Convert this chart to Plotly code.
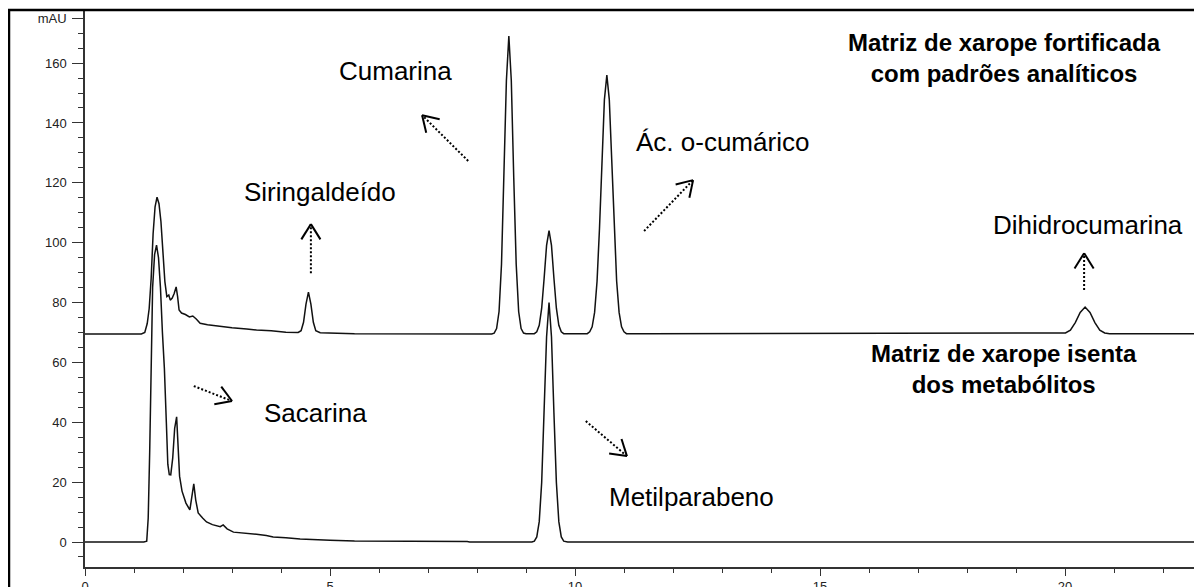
import math
import plotly.graph_objects as go

# ---------------- data ----------------
fort_x = [0.0, 1.15, 1.22, 1.27, 1.31, 1.35, 1.39, 1.43, 1.47, 1.51, 1.55, 1.59, 1.63, 1.67,
          1.71, 1.74, 1.78, 1.82, 1.86, 1.89, 1.92, 1.97, 2.05, 2.13, 2.2, 2.27, 2.35, 2.5,
          2.7, 3.0, 3.3, 3.5, 3.8, 4.1, 4.35, 4.41, 4.46, 4.51, 4.56, 4.61, 4.66, 4.71, 4.8,
          5.5, 8.3, 8.35, 8.4, 8.45, 8.5, 8.55, 8.6, 8.65, 8.7, 8.75, 8.8, 8.85, 8.9, 8.95,
          9.0, 9.17, 9.22, 9.27, 9.32, 9.37, 9.42, 9.47, 9.52, 9.57, 9.62, 9.67, 9.72, 9.77,
          10.25, 10.3, 10.35, 10.4, 10.45, 10.5, 10.55, 10.6, 10.65, 10.7, 10.75, 10.8, 10.85,
          10.9, 10.95, 11.0, 11.05, 11.5, 19.9, 20.01, 20.11, 20.21, 20.31, 20.41, 20.51,
          20.61, 20.71, 20.81, 20.91, 22.8]
fort_y = [69.5, 69.5, 70.0, 73.0, 78.0, 88.0, 103.0, 112.0, 115.2, 113.0, 107.0, 97.0, 87.0, 82.0,
          82.5, 80.8, 81.5, 83.0, 85.2, 82.0, 77.5, 76.5, 76.0, 75.2, 75.5, 74.5, 73.1, 72.6,
          72.1, 71.6, 71.2, 70.8, 70.6, 70.1, 70.0, 70.6, 73.4, 79.5, 83.5, 79.5, 73.4, 70.6, 69.9,
          69.6, 69.5, 69.8, 71.3, 77.0, 92.8, 121.7, 154.2, 169.0, 154.2, 121.7, 92.8, 77.0, 71.3, 69.8,
          69.6, 69.6, 70.2, 72.4, 78.1, 88.1, 99.1, 104.0, 99.1, 88.1, 78.1, 72.4, 70.2, 69.6,
          69.6, 70.2, 71.9, 76.7, 87.1, 104.8, 127.5, 147.8, 156.0, 147.8, 127.5, 104.8, 87.1,
          76.7, 71.9, 70.2, 69.6, 69.6, 69.6, 69.85, 70.8, 73.3, 76.7, 78.5, 76.7,
          73.3, 70.8, 69.85, 69.6, 69.6]

isen_x = [0.0, 1.2, 1.26, 1.29, 1.32, 1.35, 1.38, 1.42, 1.46, 1.5, 1.54, 1.58, 1.62, 1.66,
          1.69, 1.72, 1.75, 1.79, 1.83, 1.87, 1.9, 1.93, 1.98, 2.06, 2.14, 2.19, 2.22, 2.26,
          2.31, 2.4, 2.48, 2.6, 2.76, 2.82, 2.9, 3.03, 3.3, 3.5, 3.7, 3.84, 4.1, 4.39, 5.0,
          5.5, 7.8, 7.85, 9.12, 9.17, 9.22, 9.27, 9.32, 9.37, 9.42, 9.47, 9.52, 9.57, 9.62,
          9.67, 9.72, 9.77, 9.85, 22.8]
isen_y = [0.0, 0.0, 0.3, 8.0, 30.0, 62.0, 85.0, 96.0, 99.2, 95.0, 85.0, 70.0, 58.0, 40.0,
          26.0, 22.5, 22.4, 28.0, 38.0, 41.8, 33.0, 22.0, 17.0, 13.0, 10.7, 16.0, 19.4, 14.0,
          9.7, 8.0, 6.7, 5.8, 5.1, 5.7, 4.4, 3.3, 3.0, 2.6, 2.2, 1.7, 1.4, 1.0, 0.6,
          0.3, 0.2, 0.0, 0.0, 0.3, 1.7, 6.8, 19.9, 43.1, 68.6, 80.0, 68.6, 43.1, 19.9,
          6.8, 1.7, 0.3, 0.0, 0.0]

y_tick_vals = [0, 20, 40, 60, 80, 100, 120, 140, 160, 175]
y_tick_text = ["0", "20", "40", "60", "80", "100", "120", "140", "160", "mAU"]
x_tick_vals = [0, 5, 10, 15, 20]
x_tick_text = ["0", "5", "10", "15", "20"]

peak_names = ["Cumarina", "Siringaldeído", "Ác. o-cumárico", "Dihidrocumarina",
              "Sacarina", "Metilparabeno"]
panel_titles = ["Matriz de xarope fortificada<br>com padrões analíticos",
                "Matriz de xarope isenta<br>dos metabólitos"]

# ---------------- layout geometry ----------------
# the page body adds an 8px offset, so the figure is 8px smaller than the window
W, H = 1194, 579
ML, MR, MT, MB = 77, 0, 3, 20
PW, PH = W - ML - MR, H - MT - MB
X_RANGE = [0, PW / 49.0]
Y_RANGE = [-8.35, 177.4]
SX = PW / (X_RANGE[1] - X_RANGE[0])
SY = PH / (Y_RANGE[1] - Y_RANGE[0])

FONT = "Liberation Sans, Arial, sans-serif"

fig = go.Figure()
line_style = dict(color="#111111", width=1.5)
fig.add_trace(go.Scatter(x=isen_x, y=isen_y, mode="lines", line=line_style,
                         showlegend=False, hoverinfo="skip"))
fig.add_trace(go.Scatter(x=fort_x, y=fort_y, mode="lines", line=line_style,
                         showlegend=False, hoverinfo="skip"))

# ---------------- annotations ----------------
label_pos = [(6.33, 157.3), (4.80, 116.9), (13.02, 133.6), (20.47, 105.9),
             (4.71, 43.1), (12.37, 15.0)]
annotations = []
for name, (lx, ly) in zip(peak_names, label_pos):
    annotations.append(dict(x=lx, y=ly, xref="x", yref="y", text=name, showarrow=False,
                            xanchor="center", yanchor="middle",
                            font=dict(family=FONT, size=26, color="#000000")))

title_pos = [(18.76, 161.8), (18.76, 57.8)]
for t, (tx, ty) in zip(panel_titles, title_pos):
    annotations.append(dict(x=tx, y=ty, xref="x", yref="y", text="<b>" + t + "</b>",
                            showarrow=False, xanchor="center", yanchor="middle",
                            align="center",
                            font=dict(family=FONT, size=24, color="#000000")))

# arrows: (tail, head) in data units
arrows = [((7.82, 127.3), (6.88, 142.6)),
          ((4.61, 89.8), (4.61, 106.2)),
          ((11.41, 103.9), (12.41, 120.9)),
          ((20.39, 84.2), (20.39, 96.5)),
          ((2.22, 52.1), (3.00, 47.1)),
          ((10.22, 40.4), (11.06, 28.7))]

shapes = []
for (tx, ty), (hx, hy) in arrows:
    shapes.append(dict(type="line", xref="x", yref="y", x0=tx, y0=ty, x1=hx, y1=hy,
                       line=dict(color="#000000", width=2, dash="2px,2px")))
    dx, dy = (tx - hx) * SX, (ty - hy) * SY
    n = math.hypot(dx, dy)
    ux, uy = dx / n, dy / n
    L, a = 18, math.radians(32)
    for s in (1, -1):
        rx = ux * math.cos(s * a) - uy * math.sin(s * a)
        ry = ux * math.sin(s * a) + uy * math.cos(s * a)
        shapes.append(dict(type="line", xref="x", yref="y", x0=hx, y0=hy,
                           x1=hx + L * rx / SX, y1=hy + L * ry / SY,
                           line=dict(color="#000000", width=2)))

# outer frame (left and top edges)
fx = (1 - ML) / PW
fy = (H - MB - 2) / PH
shapes.append(dict(type="path", xref="paper", yref="paper",
                   path=f"M {fx},-0.2 L {fx},{fy} L 1.05,{fy}",
                   line=dict(color="#000000", width=2.5)))

fig.update_layout(
    width=W, height=H,
    margin=dict(l=ML, r=MR, t=MT, b=MB, pad=0, autoexpand=False),
    paper_bgcolor="white", plot_bgcolor="white",
    showlegend=False,
    annotations=annotations,
    shapes=shapes,
    xaxis=dict(range=X_RANGE, showgrid=False, zeroline=False, automargin=False,
               showline=True, linecolor="#333333", linewidth=1.5,
               ticks="outside", ticklen=7, tickwidth=1.3, tickcolor="#333333",
               tickvals=x_tick_vals, ticktext=x_tick_text,
               tickfont=dict(family=FONT, size=13, color="#222222"),
               minor=dict(dtick=1, tick0=0, ticks="outside", ticklen=4,
                          tickwidth=1.3, tickcolor="#333333", showgrid=False)),
    yaxis=dict(range=Y_RANGE, showgrid=False, zeroline=False, automargin=False,
               showline=True, linecolor="#333333", linewidth=1.5,
               ticks="outside", ticklen=11, tickwidth=1.3, tickcolor="#333333",
               tickvals=y_tick_vals, ticktext=y_tick_text,
               tickfont=dict(family=FONT, size=13, color="#222222"),
               ticklabelstandoff=3,
               minor=dict(dtick=5, tick0=0, ticks="outside", ticklen=5,
                          tickwidth=1.3, tickcolor="#333333", showgrid=False)),
)

fig.write_html("out.html")
